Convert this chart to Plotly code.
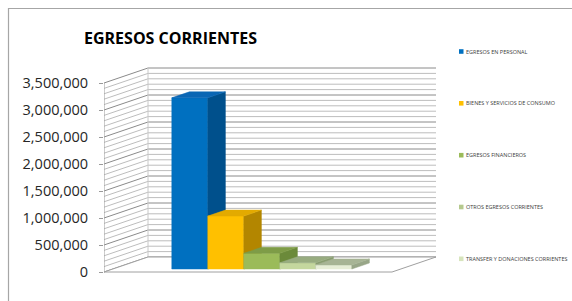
import plotly.graph_objects as go

# ---------------- data ----------------
series = [
    "EGRESOS EN PERSONAL",
    "BIENES Y SERVICIOS DE CONSUMO",
    "EGRESOS FINANCIEROS",
    "OTROS EGRESOS CORRIENTES",
    "TRANSFER Y DONACIONES CORRIENTES",
]
values = [3170000, 980000, 290000, 115000, 75000]
tick_values = [0, 500000, 1000000, 1500000, 2000000, 2500000, 3000000, 3500000]
tick_labels = ["0", "500,000", "1,000,000", "1,500,000", "2,000,000",
               "2,500,000", "3,000,000", "3,500,000"]
minor_step = 100000
title_text = "EGRESOS CORRIENTES"

# ---------------- styles ----------------
front_colors = ["#0070C0", "#FFC000", "#9BBB59", "#C4D79E", "#E6EDD6"]
top_colors = ["#0A66B4", "#E3AA00", "#7E9C47", "#98AC80", "#A7B495"]
side_colors = ["#00508C", "#B38600", "#6B8A3A", "#889C70", "#98A688"]
legend_colors = ["#0070C0", "#FFC000", "#9BBB59", "#B5C98E", "#D7E4BC"]

# ---------------- geometry (pixels) ----------------
W, H = 572, 301
ML, MR, MT, MB = 104, 132, 60, 21
PW = W - ML - MR
PH = H - MT - MB
PX_PER_VAL = 54e-6          # vertical pixels per value unit
ZERO_PX = 272               # pixel row of value 0 on the front plane
ymin = -((H - MB) - ZERO_PX) / PX_PER_VAL
ymax = ymin + PH / PX_PER_VAL

DEPTH_DX = 44               # horizontal shift from front to back (px)
DEPTH_DY = 15 / PX_PER_VAL  # vertical shift from front to back (value units)
FLOOR_W = 288
BAR_W = 36
BAR_U0 = 59
BAR_D0 = 0.2
BAR_D = 0.4
top_val = tick_values[-1]


def proj(u, v, d):
    return u + DEPTH_DX * d, v + DEPTH_DY * d


def px_x(px):
    return (px - ML) / PW


def px_y(py):
    return ((H - MB) - py) / PH


fig = go.Figure()


def add_poly(points, fill, line_color, line_width=0.8):
    xs, ys = [], []
    for (u, v, d) in points:
        x, y = proj(u, v, d)
        xs.append(x)
        ys.append(y)
    xs.append(xs[0])
    ys.append(ys[0])
    fig.add_trace(go.Scatter(
        x=xs, y=ys, mode="lines", fill="toself", fillcolor=fill,
        line=dict(color=line_color, width=line_width),
        hoverinfo="skip", showlegend=False))


def add_lines(segments, color, width):
    xs, ys = [], []
    for (a, b) in segments:
        x1, y1 = proj(*a)
        x2, y2 = proj(*b)
        xs += [x1, x2, None]
        ys += [y1, y2, None]
    fig.add_trace(go.Scatter(
        x=xs, y=ys, mode="lines", line=dict(color=color, width=width),
        hoverinfo="skip", showlegend=False))


# gridlines on back and side walls
minor_segments, major_segments = [], []
n_minor = int(top_val / minor_step)
for i in range(n_minor + 1):
    v = i * minor_step
    segs = [((0, v, 0), (0, v, 1)), ((0, v, 1), (FLOOR_W, v, 1))]
    if v in tick_values:
        major_segments += segs
    else:
        minor_segments += segs
add_lines(minor_segments, "#BDBDBD", 1)
add_lines(major_segments, "#8A8A8A", 1)

# wall edges
add_lines([((0, 0, 1), (0, top_val, 1))], "#C8C8C8", 1)
add_lines([((0, 0, 0), (0, top_val, 0))], "#9A9A9A", 1)

# floor
add_poly([(0, 0, 0), (FLOOR_W, 0, 0), (FLOOR_W, 0, 1), (0, 0, 1)],
         "white", "#A0A0A0", 1)

# bars (left to right, so later bars overlap earlier side faces)
for i, val in enumerate(values):
    u0 = BAR_U0 + i * BAR_W
    u1 = u0 + BAR_W
    d0, d1 = BAR_D0, BAR_D0 + BAR_D
    add_poly([(u0, 0, d0), (u1, 0, d0), (u1, val, d0), (u0, val, d0)],
             front_colors[i], front_colors[i], 0.5)
    add_poly([(u1, 0, d0), (u1, 0, d1), (u1, val, d1), (u1, val, d0)],
             side_colors[i], side_colors[i], 0.5)
    add_poly([(u0, val, d0), (u1, val, d0), (u1, val, d1), (u0, val, d1)],
             top_colors[i], top_colors[i], 0.5)

# ---------------- layout ----------------
shapes = []
annotations = []

# chart border (top and left visible)
shapes.append(dict(type="line", xref="paper", yref="paper",
                   x0=px_x(8), x1=px_x(W + 2), y0=px_y(8.5), y1=px_y(8.5),
                   line=dict(color="#A6A6A6", width=1.2)))
shapes.append(dict(type="line", xref="paper", yref="paper",
                   x0=px_x(8.5), x1=px_x(8.5), y0=px_y(8), y1=px_y(H + 2),
                   line=dict(color="#A6A6A6", width=1.2)))

# legend
legend_rows = [51.5, 103.3, 155.2, 207, 258.8]
for i, name in enumerate(series):
    cy = legend_rows[i]
    shapes.append(dict(type="rect", xref="paper", yref="paper",
                       x0=px_x(459), x1=px_x(463.5), y0=px_y(cy - 2.3), y1=px_y(cy + 2.3),
                       fillcolor=legend_colors[i], line=dict(width=0)))
    annotations.append(dict(text=name, xref="paper", yref="paper",
                            x=px_x(463.5), y=px_y(cy), xanchor="left", yanchor="middle",
                            showarrow=False,
                            font=dict(family="Open Sans", size=5.5, color="#404040")))

# title
annotations.append(dict(text="<b>" + title_text + "</b>", xref="paper", yref="paper",
                        x=px_x(170), y=px_y(37.5), xanchor="center", yanchor="middle",
                        showarrow=False,
                        font=dict(family="Open Sans", size=16, color="#000000")))

fig.update_layout(
    width=W, height=H,
    margin=dict(l=ML, r=MR, t=MT, b=MB, pad=0),
    paper_bgcolor="white", plot_bgcolor="white",
    showlegend=False,
    xaxis=dict(range=[0, PW], visible=False, fixedrange=True),
    yaxis=dict(range=[ymin, ymax], tickvals=tick_values, ticktext=tick_labels,
               showgrid=False, zeroline=False, showline=False,
               ticks="outside", ticklen=4, tickcolor="#9A9A9A", tickwidth=1,
               ticklabelstandoff=8,
               tickfont=dict(family="Open Sans", size=14.5, color="#262626"),
               fixedrange=True),
    shapes=shapes,
    annotations=annotations,
)

fig.write_html(
    "out.html",
    config={"displayModeBar": False},
    post_script="document.body.style.margin='0';document.body.style.overflow='hidden';",
)
